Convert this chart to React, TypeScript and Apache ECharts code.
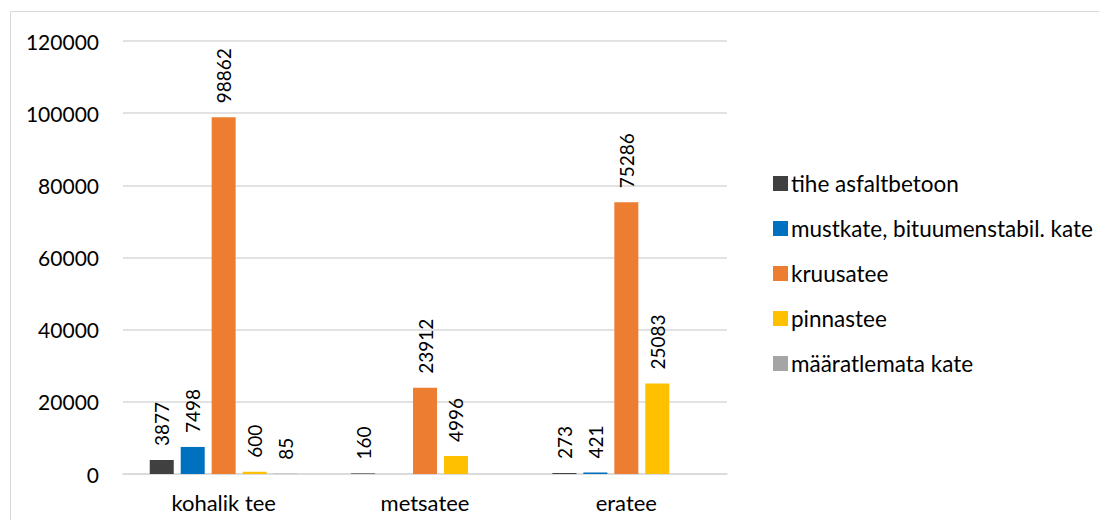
import React, { useEffect, useRef } from "react";
import * as echarts from "echarts";

// Road length by surface type, grouped by road category
const categories = ["kohalik tee", "metsatee", "eratee"];
const seriesNames = [
  "tihe asfaltbetoon",
  "mustkate, bituumenstabil. kate",
  "kruusatee",
  "pinnastee",
  "määratlemata kate",
];
const tiheAsfaltbetoon = [3877, 160, 273];
const mustkate = [7498, null, 421];
const kruusatee = [98862, 23912, 75286];
const pinnastee = [600, 4996, 25083];
const maaratlemata = [85, null, null];
const yTicks = [0, 20000, 40000, 60000, 80000, 100000, 120000];

const seriesValues = [tiheAsfaltbetoon, mustkate, kruusatee, pinnastee, maaratlemata];
const seriesColors = ["#404040", "#0070c0", "#ed7d31", "#ffc000", "#a5a5a5"];

const FONT = "Lato, 'Liberation Sans', sans-serif";

export default function App() {
  const ref = useRef<HTMLDivElement>(null);

  useEffect(() => {
    if (!ref.current) return;
    const chart = echarts.init(ref.current, null, { renderer: "svg" });

    const series = seriesNames.map((name, i) => ({
      name,
      type: "bar",
      data: seriesValues[i],
      barWidth: 24,
      barGap: "29%",
      itemStyle: { color: seriesColors[i] },
      label: {
        show: true,
        position: "top",
        rotate: 90,
        align: "left",
        verticalAlign: "middle",
        distance: 14,
        fontFamily: FONT,
        fontSize: 19,
        color: "#000",
        formatter: (p: any) => (p.value == null ? "" : String(p.value)),
      },
    }));

    chart.setOption({
      animation: false,
      backgroundColor: "#fff",
      textStyle: { fontFamily: FONT },
      graphic: [
        {
          type: "rect",
          shape: { x: 2.5, y: 3.5, width: 3000, height: 3000 },
          style: { fill: "none", stroke: "#d9d9d9", lineWidth: 1 },
          silent: true,
        },
      ],
      grid: { left: 115, right: 372, top: 33, bottom: 46 },
      legend: {
        orient: "vertical",
        left: 760,
        top: 159,
        itemWidth: 15,
        itemHeight: 15,
        itemGap: 22,
        icon: "rect",
        data: seriesNames,
        textStyle: {
          fontFamily: FONT,
          fontSize: 22.5,
          lineHeight: 20,
          color: "#000",
          padding: [0, 0, 0, -2],
        },
      },
      xAxis: {
        type: "category",
        data: categories,
        axisLine: { show: true, lineStyle: { color: "#d9d9d9", width: 1.5 } },
        axisTick: { show: false },
        axisLabel: { fontFamily: FONT, fontSize: 22, color: "#000", margin: 17 },
      },
      yAxis: {
        type: "value",
        min: yTicks[0],
        max: yTicks[yTicks.length - 1],
        interval: yTicks[1] - yTicks[0],
        axisLine: { show: false },
        axisTick: { show: false },
        axisLabel: {
          fontFamily: FONT,
          fontSize: 21,
          color: "#000",
          margin: 24,
          formatter: (v: number) => String(v),
        },
        splitLine: { lineStyle: { color: "#d9d9d9", width: 1.5 } },
      },
      series,
    });

    return () => chart.dispose();
  }, []);

  return <div ref={ref} style={{ width: 1091, height: 512 }} />;
}
